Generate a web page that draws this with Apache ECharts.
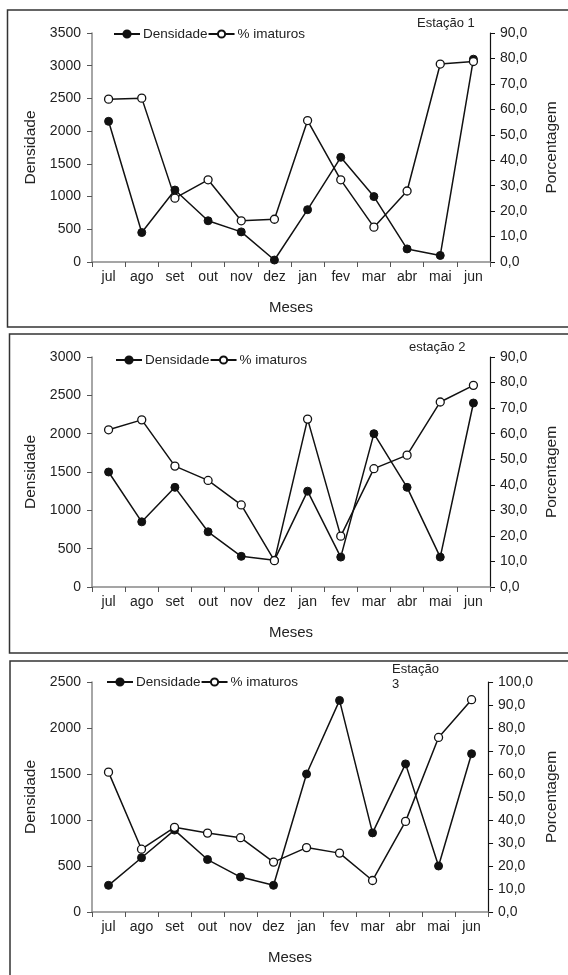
<!DOCTYPE html>
<html>
<head>
<meta charset="utf-8">
<script src="https://cdn.jsdelivr.net/npm/echarts@6/dist/echarts.min.js"></script>
<style>html,body{margin:0;padding:0;background:#fff}#c{width:568px;height:975px}</style>
</head>
<body>
<div id="c"></div>
<script>
var months = ['jul','ago','set','out','nov','dez','jan','fev','mar','abr','mai','jun'];
var dens1 = [2150, 450, 1100, 630, 460, 30, 800, 1600, 1000, 200, 100, 3100];
var imat1 = [64.0, 64.4, 25.1, 32.3, 16.2, 16.8, 55.6, 32.3, 13.7, 27.9, 77.8, 78.8];
var dens2 = [1500, 850, 1300, 720, 400, 350, 1250, 390, 2000, 1300, 390, 2400];
var imat2 = [61.5, 65.4, 47.3, 41.7, 32.1, 10.3, 65.7, 19.9, 46.3, 51.6, 72.4, 78.9];
var dens3 = [290, 590, 890, 570, 380, 290, 1500, 2300, 860, 1610, 500, 1720];
var imat3 = [60.8, 27.3, 36.8, 34.3, 32.3, 21.7, 28.0, 25.6, 13.7, 39.4, 75.9, 92.3];
var leftMax = [3500, 3000, 2500];
var rightMax = [90, 90, 100];
var titles = ['Estação 1', 'estação 2', 'Estação\n3'];
var densNames = 'Densidade';
var imatNames = '% imaturos';

var FONT = '"Liberation Sans", Arial, sans-serif';
var TXT = '#222';
var grids = [
  {left: 92, right: 69, top: 33, height: 229},
  {left: 92, right: 69, top: 357, height: 230},
  {left: 92, right: 77, top: 682, height: 230}
];
var legendPos = [{left: 113, top: 27}, {left: 115, top: 353}, {left: 106, top: 675}];
var titlePos = [{left: 417, top: 16}, {left: 409, top: 340}, {left: 392, top: 662}];
var densData = [dens1, dens2, dens3];
var imatData = [imat1, imat2, imat3];

var option = {
  animation: false,
  textStyle: {fontFamily: FONT, color: TXT},
  grid: grids,
  title: titlePos.map(function (p, i) {
    return {text: titles[i], left: p.left, top: p.top, padding: 0,
      textStyle: {fontFamily: FONT, fontSize: 13, fontWeight: 'normal', color: TXT, lineHeight: 15}};
  }),
  legend: legendPos.map(function (p, i) {
    return {left: p.left, top: p.top, padding: 0, itemGap: 0, itemWidth: 26, itemHeight: 9,
      data: [densNames, imatNames],
      textStyle: {fontFamily: FONT, fontSize: 13.5, color: TXT, padding: [0, 0, 0, -2]},
      selectedMode: false};
  }),
  xAxis: grids.map(function (g, i) {
    return {type: 'category', gridIndex: i, data: months, boundaryGap: true,
      name: 'Meses', nameLocation: 'middle', nameGap: 38,
      nameTextStyle: {fontFamily: FONT, fontSize: 15, color: TXT},
      axisLine: {lineStyle: {color: '#888', width: 1.5}},
      axisTick: {show: true, inside: false, length: 5, interval: 0, alignWithLabel: false, lineStyle: {color: '#555'}},
      axisLabel: {fontFamily: FONT, fontSize: 14, color: TXT, margin: 8, interval: 0},
      splitLine: {show: false}};
  }),
  yAxis: [],
  series: []
};
for (var i = 0; i < 3; i++) {
  option.yAxis.push({type: 'value', gridIndex: i, position: 'left', min: 0, max: leftMax[i], interval: 500,
    name: 'Densidade', nameLocation: 'middle', nameGap: 53, nameRotate: 90,
    nameTextStyle: {fontFamily: FONT, fontSize: 15.5, color: TXT},
    axisLine: {show: true, lineStyle: {color: '#888', width: 1.5}},
    axisTick: {show: true, inside: false, length: 5, lineStyle: {color: '#555'}},
    axisLabel: {fontFamily: FONT, fontSize: 14, color: TXT, margin: 11,
      formatter: function (v) { return String(v); }},
    splitLine: {show: false}});
  option.yAxis.push({type: 'value', gridIndex: i, position: 'right', min: 0, max: rightMax[i], interval: 10,
    name: 'Porcentagem', nameLocation: 'middle', nameGap: 54, nameRotate: 90,
    nameTextStyle: {fontFamily: FONT, fontSize: 15.5, color: TXT},
    axisLine: {show: true, lineStyle: {color: '#111', width: 1.2}},
    axisTick: {show: true, inside: false, length: 5, lineStyle: {color: '#111'}},
    axisLabel: {fontFamily: FONT, fontSize: 14, color: TXT, margin: 10,
      formatter: function (v) { return v.toFixed(1).replace('.', ','); }},
    splitLine: {show: false}});
  option.series.push({name: densNames, type: 'line', xAxisIndex: i, yAxisIndex: 2 * i,
    data: densData[i], symbol: 'circle', symbolSize: 8, z: 3,
    lineStyle: {color: '#111', width: 1.5}, itemStyle: {color: '#111', borderColor: '#111', borderWidth: 1}});
  option.series.push({name: imatNames, type: 'line', xAxisIndex: i, yAxisIndex: 2 * i + 1,
    data: imatData[i], symbol: 'circle', symbolSize: 8, z: 4,
    lineStyle: {color: '#111', width: 1.5}, itemStyle: {color: '#fff', borderColor: '#111', borderWidth: 1.3}});
}
option.graphic = [
  {type: 'rect', shape: {x: 7.5, y: 10, width: 600, height: 317}, style: {fill: 'none', stroke: '#333', lineWidth: 1.5}, silent: true},
  {type: 'rect', shape: {x: 9.5, y: 334, width: 600, height: 319}, style: {fill: 'none', stroke: '#333', lineWidth: 1.5}, silent: true},
  {type: 'rect', shape: {x: 10, y: 661, width: 600, height: 400}, style: {fill: 'none', stroke: '#333', lineWidth: 1.5}, silent: true}
];
var chart = echarts.init(document.getElementById('c'), null, {renderer: 'canvas'});
chart.setOption(option);
</script>
</body>
</html>
